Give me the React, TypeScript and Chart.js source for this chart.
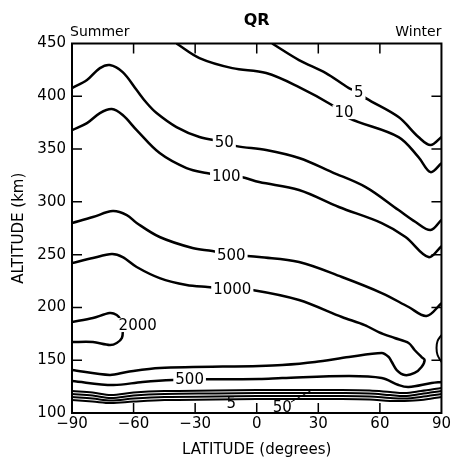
import React, { useEffect, useRef } from "react";
import { Chart, registerables } from "chart.js";

Chart.register(...registerables);

// ---- axes ----
const latTicks = [-90, -60, -30, 0, 30, 60, 90];
const altTicks = [100, 150, 200, 250, 300, 350, 400, 450];

// ---- contour lines (latitude, altitude km) ----
const c5Lat = [7.5, 20.6, 33.7, 44.9, 49.7, 53.1, 69.1, 78.8, 84.7, 90];
const c5Alt = [450, 434.3, 422, 407.8, 404, 398.3, 380.3, 361.4, 353.8, 361.4];

const c10Lat = [-39.1, -27.9, -11.9, 4.6, 20.6, 36.6, 44.9, 69.1, 78.8, 84.7, 90];
const c10Alt = [450, 436.2, 426.7, 422, 408.7, 391.7, 379.4, 361.4, 342.4, 328.2, 336.7];

const c50Lat = [-90, -82.7, -76.4, -71.6, -65.3, -58.5, -53.6, -48.8, -39.1, -27.9, -15.8, -9.9, 4.6, 20.6, 36.6, 53.1, 69.1, 77.4, 84.7, 90];
const c50Alt = [407.8, 415.4, 426.7, 429.6, 422.9, 405.9, 393.6, 384.1, 370.8, 361.4, 356.6, 352.8, 349.1, 341.5, 328.2, 314, 292.2, 280.9, 273.3, 283];

const c100Lat = [-90, -82.7, -76.4, -70.6, -65.3, -58.5, -47.3, -34.2, -24.5, -14.8, -7.5, 1.2, 20.6, 40, 60.9, 72.5, 83.7, 90];
const c100Alt = [368, 374.6, 384.1, 387.9, 382.2, 368, 346.2, 332, 327.3, 324.4, 323.5, 318.8, 311.2, 295.1, 279.9, 266.7, 247.7, 258];

const c500Lat = [-90, -79.8, -70.1, -63.3, -58.5, -47.3, -31.3, -21.6, -12.4, -4.6, 1.2, 20.6, 41.5, 60.9, 74, 82.7, 90];
const c500Alt = [280, 285.6, 291.3, 287.5, 280, 266.7, 256.3, 253.4, 249.6, 248.7, 247.7, 243, 228.8, 213.6, 200.4, 191.9, 204];

const c1000Lat = [-90, -79.8, -70.6, -65.3, -58.5, -47.3, -34.2, -24, -11.9, -2.2, 20.6, 41.5, 52.6, 59.4, 67.2, 74, 76.9, 80.3, 81.8, 80.3, 76.9, 72.1, 68.2, 65.8, 64.3, 60.9, 44.9, 28.4, 12.4, 1.2, -47.3, -63.3, -71.6, -90];
const c1000Alt = [242, 246.8, 250.6, 247.7, 238.3, 227.8, 221.2, 219.3, 217.4, 216.5, 207, 190.9, 183.3, 176.7, 171, 166.3, 159.7, 153, 150.2, 143.6, 137.9, 136, 140.7, 148.3, 153, 156.8, 153, 148.3, 145.4, 144.5, 142.6, 138.8, 136, 140.7];

const c2000Lat = [-90, -79.8, -71.6, -68.2, -66.2, -65.3, -65.7, -68.2, -71.6, -79.8, -90];
const c2000Alt = [186.2, 190, 194.7, 192.8, 188, 178.6, 171, 166.3, 164.4, 167.2, 167.2];

const arcLat = [90, 88.1, 87.6, 88.1, 90];
const arcAlt = [173.9, 168.2, 161.6, 154.9, 148.3];

const low500Lat = [-90, -70.1, -55.6, -41, -24.5, 1.2, 12.4, 44.9, 60.9, 69.1, 74, 85.2, 90];
const low500Alt = [130.3, 126.5, 129.4, 131.3, 132, 132.2, 133.1, 135, 133.1, 126.5, 124.6, 128.4, 129.4];

// lower bundle (100, 50, 10, 5)
const bundleLat = [-90, -80, -71, -60, -45, -20, 0, 20, 40, 55, 65, 72, 80, 90];
const b100Alt = [120.8, 119.4, 117, 119.4, 120.8, 121.3, 121.8, 121.8, 121.8, 121.3, 119.9, 118.9, 120.8, 123.7];
const b50Alt = [118, 116.6, 114.2, 116.6, 118, 118.5, 118.9, 118.9, 118.9, 118.5, 117, 116.1, 118, 120.8];
const b10Alt = [115.2, 113.7, 111.8, 113.7, 115.2, 115.6, 116.1, 116.1, 116.1, 115.6, 114.2, 113.7, 115.2, 118];
const b5Alt = [112.3, 110.9, 109.5, 110.9, 112.3, 112.8, 113.3, 113.3, 113.3, 112.8, 111.4, 111.4, 112.3, 115.2];

const leaderLat = [16.7, 26.9];
const leaderAlt = [110.4, 121.8];

// ---- contour labels ----
const labelText = ["5", "10", "50", "100", "500", "1000", "2000", "500", "5", "50"];
const labelLat = [49.7, 42.5, -15.8, -14.8, -12.4, -11.9, -58, -32.7, -12.4, 12.4];
const labelAlt = [404, 385, 356.6, 324.4, 249.6, 217.4, 183.3, 132.2, 109, 105.7];
const labelBg = [true, true, true, true, true, true, true, true, false, false];

const FONT = "'DejaVu Sans', 'Liberation Sans', sans-serif";

function pts(xs: number[], ys: number[]) {
  return xs.map((x, i) => ({ x, y: ys[i] }));
}

export default function App() {
  const ref = useRef<HTMLCanvasElement | null>(null);

  useEffect(() => {
    if (!ref.current) return;
    const line = (xs: number[], ys: number[], w = 2.5, t = 0.35) => ({
      type: "scatter" as const,
      data: pts(xs, ys),
      showLine: true,
      borderColor: "#000",
      backgroundColor: "#000",
      borderWidth: w,
      pointRadius: 0,
      tension: t,
      fill: false,
    });

    const decor = {
      id: "decor",
      afterDatasetsDraw(chart: any) {
        const ctx = chart.ctx;
        const xs = chart.scales.x;
        const ys = chart.scales.y;
        const a = chart.chartArea;
        ctx.save();
        // contour labels
        ctx.font = `15px ${FONT}`;
        ctx.textAlign = "center";
        ctx.textBaseline = "middle";
        labelText.forEach((t, i) => {
          const px = xs.getPixelForValue(labelLat[i]);
          const py = ys.getPixelForValue(labelAlt[i]);
          if (labelBg[i]) {
            const w = ctx.measureText(t).width + 4;
            ctx.fillStyle = "#fff";
            ctx.fillRect(px - w / 2, py - 7, w, 14);
          }
          ctx.fillStyle = "#000";
          ctx.fillText(t, px, py + 1);
        });
        // frame
        ctx.strokeStyle = "#000";
        ctx.lineWidth = 2;
        ctx.strokeRect(a.left, a.top, a.right - a.left, a.bottom - a.top);
        // inward ticks
        ctx.lineWidth = 1.5;
        ctx.beginPath();
        latTicks.slice(1, -1).forEach((v) => {
          const px = xs.getPixelForValue(v);
          ctx.moveTo(px, a.top);
          ctx.lineTo(px, a.top + 10);
          ctx.moveTo(px, a.bottom);
          ctx.lineTo(px, a.bottom - 10);
        });
        altTicks.slice(1, -1).forEach((v) => {
          const py = ys.getPixelForValue(v);
          ctx.moveTo(a.left, py);
          ctx.lineTo(a.left + 10, py);
          ctx.moveTo(a.right, py);
          ctx.lineTo(a.right - 10, py);
        });
        ctx.stroke();
        // header texts
        ctx.fillStyle = "#000";
        ctx.textBaseline = "middle";
        ctx.font = `bold 16px ${FONT}`;
        ctx.textAlign = "center";
        ctx.fillText("QR", (a.left + a.right) / 2, 21);
        ctx.font = `14px ${FONT}`;
        ctx.textAlign = "left";
        ctx.fillText("Summer", a.left - 2, 32);
        ctx.textAlign = "right";
        ctx.fillText("Winter", a.right, 32);
        ctx.restore();
      },
    };

    const chart = new Chart(ref.current, {
      type: "scatter",
      data: {
        datasets: [
          line(c5Lat, c5Alt),
          line(c10Lat, c10Alt),
          line(c50Lat, c50Alt),
          line(c100Lat, c100Alt),
          line(c500Lat, c500Alt),
          line(c1000Lat, c1000Alt, 2.5, 0.3),
          line(c2000Lat, c2000Alt, 2.5, 0.3),
          line(arcLat, arcAlt, 2, 0.4),
          line(low500Lat, low500Alt),
          line(bundleLat, b100Alt, 2),
          line(bundleLat, b50Alt, 2),
          line(bundleLat, b10Alt, 2),
          line(bundleLat, b5Alt, 2),
          line(leaderLat, leaderAlt, 1, 0),
        ] as any,
      },
      options: {
        animation: false,
        responsive: false,
        devicePixelRatio: 1,
        layout: { padding: { top: 43.5, right: 10, left: 0, bottom: 0 } },
        plugins: { legend: { display: false }, tooltip: { enabled: false } },
        scales: {
          x: {
            type: "linear",
            min: -90,
            max: 90,
            afterBuildTicks: (s: any) => {
              s.ticks = latTicks.map((v) => ({ value: v }));
            },
            afterFit: (s: any) => {
              s.height = 45;
            },
            grid: { display: false, drawTicks: false },
            border: { display: false },
            ticks: {
              color: "#000",
              font: { family: FONT, size: 15 },
              padding: 2,
              maxRotation: 0,
              autoSkip: false,
              callback: (v: any) => (Number(v) < 0 ? "\u2212" + Math.abs(Number(v)) : String(v)),
            },
            title: {
              display: true,
              text: "LATITUDE (degrees)",
              color: "#000",
              font: { family: FONT, size: 15, lineHeight: 1 },
              padding: { top: 0, bottom: 0.5 },
            },
          },
          y: {
            type: "linear",
            min: 100,
            max: 450,
            afterBuildTicks: (s: any) => {
              s.ticks = altTicks.map((v) => ({ value: v }));
            },
            afterFit: (s: any) => {
              s.width = 72;
            },
            grid: { display: false, drawTicks: false },
            border: { display: false },
            ticks: {
              color: "#000",
              font: { family: FONT, size: 15 },
              padding: 6,
              autoSkip: false,
            },
            title: {
              display: true,
              text: "ALTITUDE (km)",
              color: "#000",
              font: { family: FONT, size: 15, lineHeight: 1 },
              padding: { top: 11.5, bottom: 0 },
            },
          },
        },
      },
      plugins: [decor],
    } as any);
    return () => chart.destroy();
  }, []);

  return (
    <div style={{ position: "absolute", left: 0, top: 0, width: 453, height: 458, background: "#fff" }}>
      <canvas ref={ref} width={453} height={458} style={{ display: "block" }} />
    </div>
  );
}
